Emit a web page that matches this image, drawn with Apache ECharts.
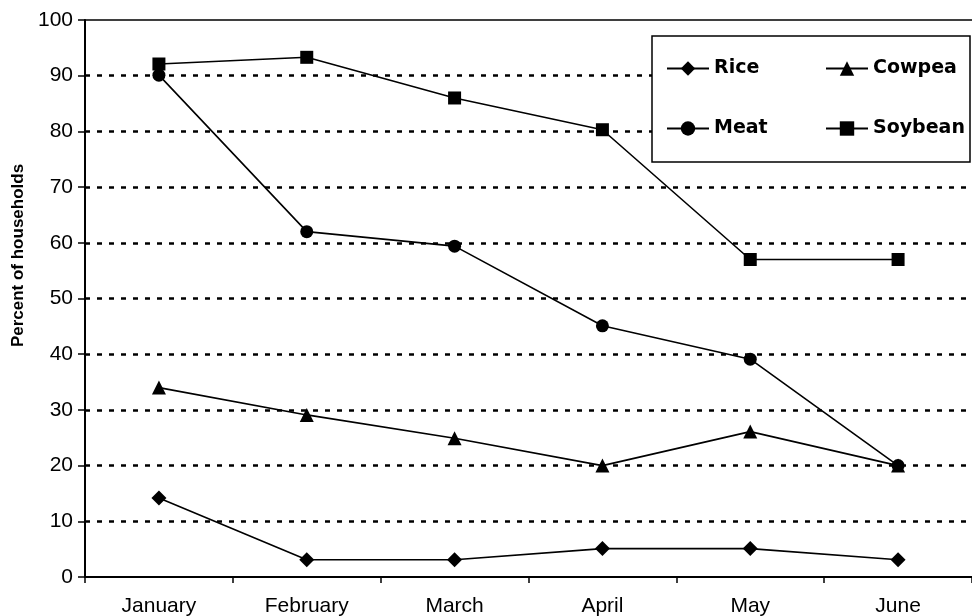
<!DOCTYPE html>
<html>
<head>
<meta charset="utf-8">
<script src="https://cdn.jsdelivr.net/npm/echarts@6/dist/echarts.min.js"></script>
<style>html,body{margin:0;padding:0;background:#fff}#c{width:972px;height:616px}</style>
</head>
<body>
<div id="c"></div>
<script>
var months = ['January', 'February', 'March', 'April', 'May', 'June'];
var rice = [14.2, 3.1, 3.1, 5.1, 5.1, 3.1];
var cowpea = [34, 29.1, 24.9, 20, 26.1, 20];
var meat = [90.1, 62, 59.4, 45.1, 39.1, 20];
var soybean = [92.1, 93.3, 86, 80.3, 57, 57];
var yTicks = {min: 0, max: 100, interval: 10};

var chart = echarts.init(document.getElementById('c'), null, {renderer: 'canvas'});
var font = '"Liberation Sans", Arial, sans-serif';
var legFont = '"DejaVu Sans", sans-serif';

function ser(name, data, sym, size) {
  return {
    name: name, type: 'line', data: data, symbol: sym, symbolSize: size,
    lineStyle: {color: '#000', width: 1.6},
    itemStyle: {color: '#000'},
    emphasis: {disabled: true},
    animation: false, z: 3
  };
}
function leg(name, left, top) {
  return {
    data: [name], left: left, top: top, padding: 0, orient: 'horizontal',
    itemWidth: 42, itemHeight: 18, z: 6,
    lineStyle: {width: 2},
    textStyle: {fontFamily: legFont, fontWeight: 'bold', fontSize: 19, color: '#000'},
    selectedMode: false
  };
}

chart.setOption({
  animation: false,
  backgroundColor: '#fff',
  grid: {left: 85, right: 0, top: 20, bottom: 39, containLabel: false, outerBoundsMode: 'none'},
  xAxis: [{
    type: 'category', data: months, boundaryGap: true, position: 'bottom',
    axisLine: {lineStyle: {color: '#000', width: 2}},
    axisTick: {show: true, length: 6, lineStyle: {color: '#000', width: 1.5}},
    axisLabel: {color: '#000', fontFamily: font, fontSize: 21, margin: 19},
    splitLine: {show: false}
  }, {
    type: 'category', data: months, position: 'top',
    axisLine: {show: true, lineStyle: {color: '#000', width: 1.5}},
    axisTick: {show: false}, axisLabel: {show: false}, splitLine: {show: false}
  }],
  yAxis: {
    type: 'value', min: yTicks.min, max: yTicks.max, interval: yTicks.interval,
    name: 'Percent of households', nameLocation: 'middle', nameGap: 51,
    nameTextStyle: {color: '#000', fontFamily: font, fontWeight: 'bold', fontSize: 17, padding: [0, 0, 0, 86]},
    axisLine: {show: true, lineStyle: {color: '#000', width: 2}},
    axisTick: {show: true, length: 7, lineStyle: {color: '#000', width: 1.5}},
    axisLabel: {color: '#000', fontFamily: font, fontSize: 21, margin: 12},
    splitLine: {show: true, showMinLine: false, showMaxLine: false, lineStyle: {color: '#000', width: 2.5, type: [5, 7]}}
  },
  legend: [
    leg('Rice', 666, 59),
    leg('Cowpea', 825, 59),
    leg('Meat', 666, 119),
    leg('Soybean', 825, 119)
  ],
  graphic: [{
    type: 'rect', z: 5, shape: {x: 652, y: 36, width: 318, height: 126},
    style: {fill: '#fff', stroke: '#000', lineWidth: 1.5}
  }],
  series: [
    ser('Rice', rice, 'diamond', 15),
    ser('Cowpea', cowpea, 'triangle', 14),
    ser('Meat', meat, 'circle', 13),
    ser('Soybean', soybean, 'rect', 13)
  ]
});
</script>
</body>
</html>
